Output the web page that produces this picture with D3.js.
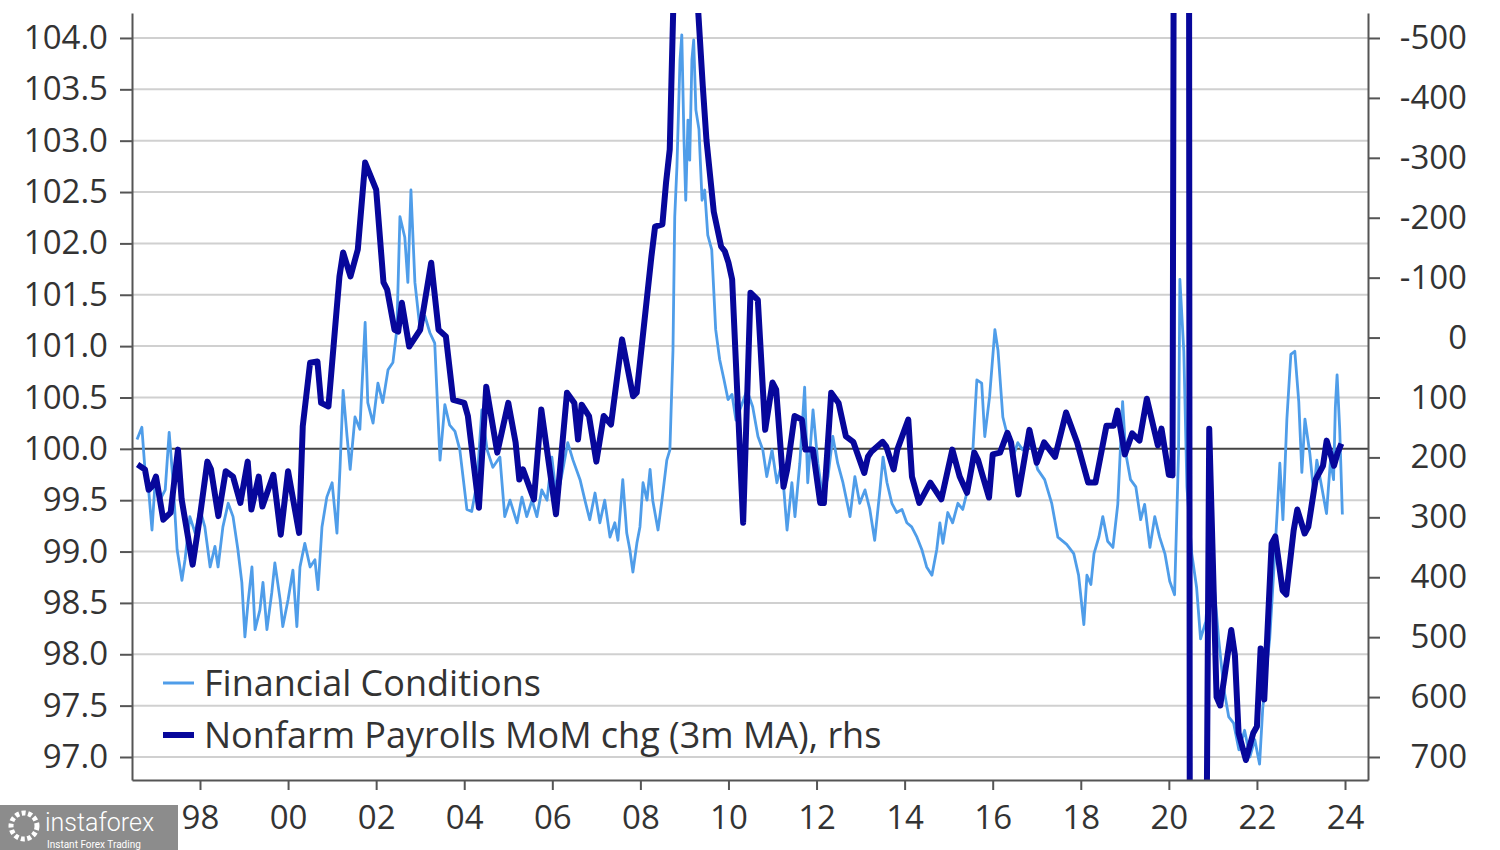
<!DOCTYPE html>
<html>
<head>
<meta charset="utf-8">
<script src="https://cdn.jsdelivr.net/npm/d3@7"></script>
<style>
  body { margin: 0; background: #fff; }
  text { font-family: "Open Sans", "Noto Sans", sans-serif; }
</style>
</head>
<body>
<div id="chart"></div>
<script>
// Financial Conditions index (lhs), dates as decimal years
const fcDates = [
  1996.57, 1996.68, 1996.75, 1996.82, 1996.91, 1996.98, 1997.09, 1997.21, 1997.30, 1997.39,
  1997.48, 1997.59, 1997.66, 1997.77, 1997.89, 1998.00, 1998.11, 1998.23, 1998.34, 1998.41,
  1998.52, 1998.64, 1998.75, 1998.86, 1998.95, 1999.02, 1999.09, 1999.18, 1999.25, 1999.36,
  1999.43, 1999.52, 1999.63, 1999.70, 1999.82, 1999.88, 2000.00, 2000.11, 2000.20, 2000.27,
  2000.38, 2000.50, 2000.61, 2000.68, 2000.77, 2000.88, 2001.00, 2001.11, 2001.18, 2001.25,
  2001.34, 2001.41, 2001.52, 2001.63, 2001.75, 2001.81, 2001.93, 2002.04, 2002.15, 2002.27,
  2002.38, 2002.47, 2002.54, 2002.65, 2002.72, 2002.79, 2002.88, 2002.99, 2003.11, 2003.22,
  2003.33, 2003.45, 2003.56, 2003.67, 2003.79, 2003.90, 2004.06, 2004.17, 2004.29, 2004.40,
  2004.52, 2004.65, 2004.81, 2004.92, 2005.04, 2005.20, 2005.31, 2005.42, 2005.54, 2005.65,
  2005.76, 2005.88, 2005.99, 2006.10, 2006.24, 2006.35, 2006.47, 2006.63, 2006.74, 2006.85,
  2006.97, 2007.08, 2007.19, 2007.31, 2007.42, 2007.49, 2007.60, 2007.69, 2007.76, 2007.83,
  2007.92, 2007.99, 2008.06, 2008.15, 2008.22, 2008.28, 2008.40, 2008.49, 2008.60, 2008.67,
  2008.74, 2008.78, 2008.83, 2008.90, 2008.94, 2008.99, 2009.03, 2009.08, 2009.12, 2009.17,
  2009.21, 2009.26, 2009.33, 2009.40, 2009.46, 2009.53, 2009.62, 2009.71, 2009.80, 2009.90,
  2009.99, 2010.08, 2010.17, 2010.26, 2010.42, 2010.55, 2010.67, 2010.78, 2010.87, 2010.99,
  2011.10, 2011.21, 2011.33, 2011.44, 2011.51, 2011.62, 2011.73, 2011.80, 2011.92, 2012.03,
  2012.14, 2012.26, 2012.37, 2012.48, 2012.60, 2012.76, 2012.87, 2012.98, 2013.10, 2013.21,
  2013.32, 2013.44, 2013.51, 2013.60, 2013.71, 2013.82, 2013.94, 2014.05, 2014.16, 2014.28,
  2014.39, 2014.50, 2014.62, 2014.73, 2014.80, 2014.87, 2014.98, 2015.09, 2015.21, 2015.32,
  2015.43, 2015.55, 2015.64, 2015.75, 2015.82, 2015.93, 2016.05, 2016.12, 2016.23, 2016.34,
  2016.46, 2016.57, 2016.68, 2016.80, 2016.91, 2017.02, 2017.18, 2017.34, 2017.48, 2017.68,
  2017.84, 2017.95, 2018.07, 2018.14, 2018.23, 2018.30, 2018.41, 2018.50, 2018.61, 2018.73,
  2018.84, 2018.95, 2019.02, 2019.13, 2019.25, 2019.36, 2019.45, 2019.57, 2019.68, 2019.79,
  2019.91, 2020.02, 2020.13, 2020.22, 2020.25, 2020.34, 2020.41, 2020.52, 2020.63, 2020.72,
  2020.84, 2020.95, 2021.02, 2021.13, 2021.25, 2021.36, 2021.47, 2021.59, 2021.72, 2021.84,
  2021.95, 2022.06, 2022.13, 2022.20, 2022.29, 2022.36, 2022.45, 2022.52, 2022.59, 2022.68,
  2022.77, 2022.86, 2022.95, 2023.02, 2023.09, 2023.20, 2023.29, 2023.36, 2023.47, 2023.58,
  2023.67, 2023.74, 2023.78, 2023.82, 2023.88, 2023.94
];
const fcValues = [
  100.09, 100.21, 99.80, 99.67, 99.21, 99.67, 99.50, 99.60, 100.16, 99.67,
  99.02, 98.72, 98.92, 99.34, 99.18, 99.41, 99.24, 98.85, 99.05, 98.85,
  99.24, 99.47, 99.34, 99.02, 98.70, 98.17, 98.50, 98.85, 98.24, 98.43,
  98.70, 98.24, 98.60, 98.89, 98.53, 98.27, 98.53, 98.82, 98.27, 98.85,
  99.08, 98.85, 98.92, 98.63, 99.24, 99.53, 99.67, 99.18, 99.82, 100.57,
  100.12, 99.80, 100.31, 100.19, 101.23, 100.45, 100.25, 100.64, 100.45, 100.77,
  100.84, 101.16, 102.26, 102.06, 101.62, 102.52, 101.62, 101.19, 101.29, 101.13,
  101.03, 99.89, 100.43, 100.23, 100.17, 99.99, 99.41, 99.39, 99.67, 100.38,
  99.99, 99.82, 99.92, 99.34, 99.50, 99.28, 99.53, 99.34, 99.50, 99.34,
  99.60, 99.50, 99.92, 99.50, 99.80, 100.06, 99.89, 99.70, 99.50, 99.31,
  99.57, 99.28, 99.50, 99.14, 99.28, 99.11, 99.70, 99.18, 99.02, 98.80,
  99.08, 99.24, 99.67, 99.50, 99.80, 99.50, 99.21, 99.50, 99.89, 99.99,
  100.96, 102.26, 102.75, 103.79, 104.03, 103.01, 102.42, 103.20, 102.81, 103.79,
  103.98, 103.30, 103.11, 102.42, 102.52, 102.08, 101.94, 101.16, 100.87, 100.67,
  100.48, 100.53, 100.28, 100.38, 100.57, 100.41, 100.12, 99.99, 99.73, 99.99,
  99.67, 99.86, 99.21, 99.67, 99.34, 99.86, 100.60, 99.67, 100.38, 99.86,
  99.53, 99.73, 100.12, 99.86, 99.67, 99.34, 99.73, 99.47, 99.60, 99.41,
  99.11, 99.60, 99.92, 99.67, 99.47, 99.38, 99.41, 99.28, 99.24, 99.14,
  99.02, 98.85, 98.77, 99.02, 99.28, 99.08, 99.38, 99.28, 99.47, 99.41,
  99.60, 99.99, 100.67, 100.64, 100.12, 100.51, 101.16, 100.96, 100.31, 100.12,
  99.92, 100.06, 99.99, 100.06, 99.99, 99.80, 99.70, 99.47, 99.14, 99.07,
  98.98, 98.77, 98.29, 98.77, 98.68, 98.98, 99.14, 99.34, 99.10, 99.04,
  99.46, 100.46, 99.96, 99.70, 99.63, 99.31, 99.46, 99.04, 99.34, 99.14,
  98.98, 98.71, 98.58, 99.96, 101.65, 100.95, 99.63, 98.98, 98.65, 98.15,
  98.32, 98.98, 98.71, 98.15, 97.66, 97.39, 97.33, 97.07, 97.26, 97.00,
  97.17, 96.93, 97.46, 97.79, 98.15, 98.65, 99.31, 99.86, 99.31, 100.29,
  100.92, 100.95, 100.46, 99.77, 100.29, 99.96, 99.57, 99.89, 99.63, 99.37,
  99.89, 99.70, 100.40, 100.72, 100.19, 99.36
];

// Nonfarm payrolls, MoM change, 3m moving average, thousands (rhs, inverted)
const nfpMonths = [
  "1996-08", "1996-10", "1996-11", "1996-12", "1997-01", "1997-03", "1997-05", "1997-07", "1997-08", "1997-11",
  "1998-01", "1998-03", "1998-04", "1998-06", "1998-08", "1998-10", "1998-12", "1999-02", "1999-03", "1999-05",
  "1999-06", "1999-09", "1999-11", "2000-01", "2000-04", "2000-05", "2000-07", "2000-09", "2000-10", "2000-12",
  "2001-03", "2001-04", "2001-06", "2001-08", "2001-10", "2002-01", "2002-03", "2002-04", "2002-06", "2002-07",
  "2002-08", "2002-10", "2003-01", "2003-04", "2003-06", "2003-08", "2003-10", "2004-01", "2004-02", "2004-05",
  "2004-07", "2004-10", "2005-01", "2005-03", "2005-04", "2005-05", "2005-08", "2005-10", "2006-02", "2006-05",
  "2006-07", "2006-08", "2006-09", "2006-11", "2007-01", "2007-03", "2007-05", "2007-08", "2007-11", "2007-12",
  "2008-04", "2008-05", "2008-07", "2008-08", "2008-09", "2008-10", "2008-11", "2008-12", "2009-01", "2009-02",
  "2009-03", "2009-04", "2009-05", "2009-06", "2009-07", "2009-09", "2009-11", "2009-12", "2010-01", "2010-02",
  "2010-05", "2010-07", "2010-09", "2010-11", "2011-01", "2011-02", "2011-04", "2011-05", "2011-07", "2011-09",
  "2011-10", "2011-12", "2012-02", "2012-03", "2012-05", "2012-07", "2012-09", "2012-11", "2013-02", "2013-03",
  "2013-04", "2013-07", "2013-08", "2013-10", "2013-11", "2014-02", "2014-03", "2014-05", "2014-08", "2014-11",
  "2015-02", "2015-04", "2015-06", "2015-08", "2015-09", "2015-12", "2016-01", "2016-03", "2016-05", "2016-06",
  "2016-08", "2016-11", "2017-01", "2017-03", "2017-06", "2017-09", "2017-12", "2018-03", "2018-05", "2018-08",
  "2018-10", "2018-11", "2019-01", "2019-03", "2019-05", "2019-07", "2019-10", "2019-11", "2020-01", "2020-02",
  "2020-03", "2020-04", "2020-05", "2020-06", "2020-07", "2020-08", "2020-09", "2020-10", "2020-11", "2020-12",
  "2021-02", "2021-03", "2021-06", "2021-07", "2021-08", "2021-10", "2021-12", "2022-01", "2022-02", "2022-03",
  "2022-05", "2022-06", "2022-08", "2022-09", "2022-11", "2022-12", "2023-02", "2023-03", "2023-05", "2023-07",
  "2023-08", "2023-10", "2023-11", "2023-12"
];
const nfpValues = [
  212, 220, 254, 248, 232, 304, 292, 187, 270, 379,
  298, 207, 220, 298, 223, 232, 276, 207, 287, 232,
  282, 229, 329, 223, 326, 148, 42, 40, 109, 115,
  -102, -142, -102, -147, -292, -247, -92, -80, -13, -10,
  -58, 15, -13, -125, -13, -2, 104, 109, 131, 284,
  82, 192, 109, 175, 237, 220, 270, 120, 295, 92,
  109, 170, 112, 131, 207, 131, 145, 3, 98, 92,
  -135, -185, -189, -259, -314, -560, -650, -720, -760, -740,
  -700, -620, -520, -420, -330, -210, -152, -144, -125, -97,
  309, -75, -63, 154, 75, 87, 249, 220, 131, 137,
  187, 187, 276, 276, 92, 109, 165, 174, 226, 199,
  190, 174, 182, 220, 187, 137, 232, 276, 242, 270,
  187, 232, 259, 192, 204, 267, 195, 192, 159, 175,
  262, 154, 209, 175, 199, 125, 175, 242, 242, 147,
  147, 122, 195, 160, 172, 102, 180, 152, 229, 230,
  -2500, -7000, -6400, -4300, 3000, 2600, 1500, 1200, 1100, 152,
  600, 614, 488, 530, 660, 705, 660, 649, 519, 604,
  344, 332, 422, 429, 322, 287, 327, 316, 237, 214,
  172, 214, 192, 177
];

const leftTicks = [97.0, 97.5, 98.0, 98.5, 99.0, 99.5, 100.0, 100.5, 101.0, 101.5, 102.0, 102.5, 103.0, 103.5, 104.0];
const rightTicks = [-500, -400, -300, -200, -100, 0, 100, 200, 300, 400, 500, 600, 700];
const yearTicks = [1998, 2000, 2002, 2004, 2006, 2008, 2010, 2012, 2014, 2016, 2018, 2020, 2022, 2024];
const seriesNames = ["Financial Conditions", "Nonfarm Payrolls MoM chg (3m MA), rhs"];

const width = 1500;
const height = 850;
const margin = { top: 13, right: 132, bottom: 70, left: 132 };
const chartWidth = width - margin.left - margin.right;
const chartHeight = height - margin.top - margin.bottom;

const fcColor = '#4f9de9';
const nfpColor = '#07079b';
const axisColor = '#555';

const svg = d3.select('#chart').append('svg')
    .attr('width', width)
    .attr('height', height);

const g = svg.append('g')
    .attr('transform', `translate(${margin.left}, ${margin.top})`);

// scales
const xScale = d3.scaleLinear()
    .domain([1996.456, 2024.522])
    .range([0, chartWidth]);

const yLeft = d3.scaleLinear()
    .domain([96.776, 104.243])
    .range([chartHeight, 0]);

// inverted: negative payrolls at the top
const yRight = d3.scaleLinear()
    .domain([738.4, -541.7])
    .range([chartHeight, 0]);

// gridlines follow the left axis
g.append('g')
    .selectAll('line')
    .data(leftTicks)
    .enter()
    .append('line')
    .attr('x1', 0)
    .attr('x2', chartWidth)
    .attr('y1', d => yLeft(d))
    .attr('y2', d => yLeft(d))
    .attr('stroke', d => d === 100 ? '#444' : '#d0d0d0')
    .attr('stroke-width', 2);

// clip the lines to the plot area
g.append('clipPath')
    .attr('id', 'plot-clip')
    .append('rect')
    .attr('width', chartWidth)
    .attr('height', chartHeight);

const fcData = fcDates.map((d, i) => ({ t: d, v: fcValues[i] }));
const nfpData = nfpMonths.map((m, i) => {
    const [yy, mm] = m.split('-').map(Number);
    return { t: yy + (mm - 1) / 12, v: nfpValues[i] };
});

const fcLine = d3.line()
    .x(d => xScale(d.t))
    .y(d => yLeft(d.v));

const nfpLine = d3.line()
    .x(d => xScale(d.t))
    .y(d => yRight(d.v));

const lines = g.append('g').attr('clip-path', 'url(#plot-clip)');

lines.append('path')
    .datum(fcData)
    .attr('d', fcLine)
    .attr('fill', 'none')
    .attr('stroke', fcColor)
    .attr('stroke-width', 2.8)
    .attr('stroke-linejoin', 'round');

lines.append('path')
    .datum(nfpData)
    .attr('d', nfpLine)
    .attr('fill', 'none')
    .attr('stroke', nfpColor)
    .attr('stroke-width', 6)
    .attr('stroke-linejoin', 'round');

// axes
function styleAxis(axisG) {
    axisG.selectAll('path.domain').attr('stroke', axisColor).attr('stroke-width', 2);
    axisG.selectAll('.tick line').attr('stroke', axisColor).attr('stroke-width', 2);
    axisG.selectAll('.tick text')
        .attr('fill', '#333')
        .style('font-size', '33px');
}

const leftAxis = g.append('g')
    .call(d3.axisLeft(yLeft)
        .tickValues(leftTicks)
        .tickFormat(d3.format('.1f'))
        .tickSizeInner(12)
        .tickSizeOuter(0)
        .tickPadding(12));
styleAxis(leftAxis);

const rightAxis = g.append('g')
    .attr('transform', `translate(${chartWidth}, 0)`)
    .call(d3.axisRight(yRight)
        .tickValues(rightTicks)
        .tickFormat(d => String(d))
        .tickSizeInner(12)
        .tickSizeOuter(0));
styleAxis(rightAxis);
rightAxis.selectAll('.tick text')
    .attr('text-anchor', 'end')
    .attr('x', 99);

const bottomAxis = g.append('g')
    .attr('transform', `translate(0, ${chartHeight})`)
    .call(d3.axisBottom(xScale)
        .tickValues(yearTicks)
        .tickFormat(d => String(d % 100).padStart(2, '0'))
        .tickSizeInner(10)
        .tickSizeOuter(0)
        .tickPadding(16));
styleAxis(bottomAxis);

// legend
const legend = g.append('g')
    .attr('transform', `translate(${163 - margin.left}, ${683 - margin.top})`);

const legendItems = [
    { name: seriesNames[0], color: fcColor, w: 3 },
    { name: seriesNames[1], color: nfpColor, w: 6 }
];

legendItems.forEach((item, i) => {
    legend.append('line')
        .attr('x1', 0)
        .attr('x2', 31)
        .attr('y1', i * 52)
        .attr('y2', i * 52)
        .attr('stroke', item.color)
        .attr('stroke-width', item.w);
    legend.append('text')
        .attr('x', 41)
        .attr('y', i * 52)
        .attr('dy', '0.35em')
        .style('font-size', '36px')
        .attr('fill', '#333')
        .text(item.name);
});

// watermark box in the bottom-left corner
const mark = svg.append('g').attr('transform', 'translate(0, 805)');
mark.append('rect')
    .attr('width', 178)
    .attr('height', 45)
    .attr('fill', '#8c8c8c');
mark.append('circle')
    .attr('cx', 24)
    .attr('cy', 21)
    .attr('r', 13)
    .attr('fill', 'none')
    .attr('stroke', '#fff')
    .attr('stroke-width', 5)
    .attr('stroke-dasharray', '4 2.5');
mark.append('text')
    .attr('x', 45)
    .attr('y', 26)
    .attr('fill', '#fff')
    .style('font-size', '25px')
    .style('font-family', 'Roboto, sans-serif')
    .style('font-weight', 300)
    .text('instaforex');
mark.append('text')
    .attr('x', 47)
    .attr('y', 43)
    .attr('fill', '#fff')
    .style('font-size', '10px')
    .style('font-family', 'Roboto, sans-serif')
    .text('Instant Forex Trading');
</script>
</body>
</html>
